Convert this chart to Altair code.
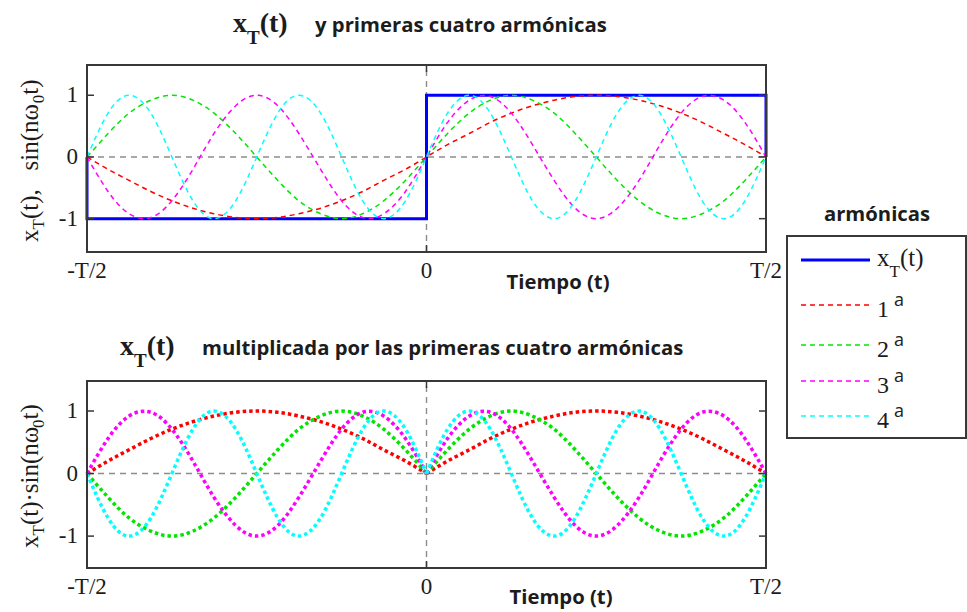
import altair as alt
import pandas as pd

# ---------------------------------------------------------------------------
# Data: one period of the square wave and its first four sine harmonics,
# sampled every T/32 from -T/2 to T/2 (time axis in units of T).
# ---------------------------------------------------------------------------
t_vals = [-0.5, -0.469, -0.438, -0.406, -0.375, -0.344, -0.313, -0.281, -0.25,
          -0.219, -0.188, -0.156, -0.125, -0.094, -0.063, -0.031, 0.0,
          0.031, 0.063, 0.094, 0.125, 0.156, 0.188, 0.219, 0.25,
          0.281, 0.313, 0.344, 0.375, 0.406, 0.438, 0.469, 0.5]

harm_1 = [0, -0.2, -0.38, -0.56, -0.71, -0.83, -0.92, -0.98, -1,
          -0.98, -0.92, -0.83, -0.71, -0.56, -0.38, -0.2, 0,
          0.2, 0.38, 0.56, 0.71, 0.83, 0.92, 0.98, 1,
          0.98, 0.92, 0.83, 0.71, 0.56, 0.38, 0.2, 0]
harm_2 = [0, 0.38, 0.71, 0.92, 1, 0.92, 0.71, 0.38, 0,
          -0.38, -0.71, -0.92, -1, -0.92, -0.71, -0.38, 0,
          0.38, 0.71, 0.92, 1, 0.92, 0.71, 0.38, 0,
          -0.38, -0.71, -0.92, -1, -0.92, -0.71, -0.38, 0]
harm_3 = [0, -0.56, -0.92, -0.98, -0.71, -0.2, 0.38, 0.83, 1,
          0.83, 0.38, -0.2, -0.71, -0.98, -0.92, -0.56, 0,
          0.56, 0.92, 0.98, 0.71, 0.2, -0.38, -0.83, -1,
          -0.83, -0.38, 0.2, 0.71, 0.98, 0.92, 0.56, 0]
harm_4 = [0, 0.71, 1, 0.71, 0, -0.71, -1, -0.71, 0,
          0.71, 1, 0.71, 0, -0.71, -1, -0.71, 0,
          0.71, 1, 0.71, 0, -0.71, -1, -0.71, 0,
          0.71, 1, 0.71, 0, -0.71, -1, -0.71, 0]
harmonics = [harm_1, harm_2, harm_3, harm_4]
harm_keys = ["1", "2", "3", "4"]
harm_colors = ["#ff0000", "#00e600", "#ff00ff", "#00ffff"]

# outline of x_T(t) over one period
square_t = [-0.5, -0.5, 0.0, 0.0, 0.5, 0.5]
square_v = [0, -1, -1, 1, 1, 0]
square_color = "#0000ff"

x_tick_values = [-0.5, 0.0, 0.5]
x_tick_labels = ["-T/2", "0", "T/2"]
y_tick_values = [-1, 0, 1]
y_tick_labels = ["-1", "0", "1"]

# ---------------------------------------------------------------------------
# Layout (pixels on a 967 x 612 canvas)
# ---------------------------------------------------------------------------
W, H = 967, 612
X_DOMAIN = [-0.5, 0.5]
X_RANGE = [87, 766]
TOP_DOMAIN = [-1.54, 1.49]
TOP_RANGE = [252, 65]
BOT_DOMAIN = [-1.51, 1.48]
BOT_RANGE = [568, 381]

INK = "#1c1c1c"
FRAME = "#383838"
ZERO = "#8c8c8c"
SERIF = "Liberation Serif"
SANS = "Open Sans"
SANS_SIZE = 20.3

# Times-compatible advance widths (em) used to chain sub/superscript pieces
SERIF_W = {"x": 0.5, "T": 0.611, "(": 0.333, ")": 0.333, "t": 0.278,
           ",": 0.25, " ": 0.25, "s": 0.389, "i": 0.278, "n": 0.5,
           "\u03c9": 0.69, "0": 0.5, "\u00b7": 0.25}
SERIF_BOLD_W = {"x": 0.5, "T": 0.667, "(": 0.333, ")": 0.333, "t": 0.333}

one = pd.DataFrame({"k": [0]})


def label(text, x, y, size, font, weight="normal", angle=0, align="left", color=INK):
    return alt.Chart(one).mark_text(
        text=text, font=font, fontSize=size, fontWeight=weight, angle=angle,
        align=align, baseline="alphabetic", color=color,
    ).encode(x=alt.value(x), y=alt.value(y))


def serif_run(parts, x0, y0, bold=False, angle=0):
    """Chain (text, size, baseline_shift) pieces along the reading direction.
    Pieces made only of spaces just advance the pen."""
    widths = SERIF_BOLD_W if bold else SERIF_W
    ux, uy = (1, 0) if angle == 0 else (0, -1)
    nx, ny = (0, 1) if angle == 0 else (1, 0)
    adv = 0.0
    out = []
    for text, size, shift in parts:
        if text.strip():
            out.append(label(text, x0 + ux * adv + nx * shift, y0 + uy * adv + ny * shift,
                             size, SERIF, "bold" if bold else "normal", angle))
        adv += sum(widths[c] for c in text) * size
    return out


x_scale = alt.Scale(domain=X_DOMAIN, range=X_RANGE, nice=False, zero=False)
color = alt.Color("n:N", scale=alt.Scale(domain=harm_keys, range=harm_colors), legend=None)


def panel_decor(ys, dom):
    """Zero lines, box, inward MATLAB-style ticks and tick labels of one panel."""
    xs = x_scale
    zero_h = alt.Chart(one).mark_rule(color=ZERO, strokeWidth=1.4, strokeDash=[6, 5]).encode(
        x=alt.X(datum=X_DOMAIN[0], scale=xs, axis=None), x2=alt.X2(datum=X_DOMAIN[1]),
        y=alt.Y(datum=0, scale=ys, axis=None))
    zero_v = alt.Chart(one).mark_rule(color=ZERO, strokeWidth=1.4, strokeDash=[6, 5]).encode(
        x=alt.X(datum=0, scale=xs, axis=None),
        y=alt.Y(datum=dom[0], scale=ys, axis=None), y2=alt.Y2(datum=dom[1]))
    box = alt.Chart(one).mark_rect(fillOpacity=0, stroke=FRAME, strokeWidth=2).encode(
        x=alt.X(datum=X_DOMAIN[0], scale=xs, axis=None), x2=alt.X2(datum=X_DOMAIN[1]),
        y=alt.Y(datum=dom[0], scale=ys, axis=None), y2=alt.Y2(datum=dom[1]))
    yt = pd.DataFrame({"v": y_tick_values, "lab": y_tick_labels})
    xt = pd.DataFrame({"t": x_tick_values, "lab": x_tick_labels})
    ticks = []
    for xe, off in ((X_DOMAIN[0], 7), (X_DOMAIN[1], -7)):
        ticks.append(alt.Chart(yt).mark_rule(color=FRAME, strokeWidth=1.5, x2Offset=off).encode(
            x=alt.X(datum=xe, scale=xs, axis=None), x2=alt.X2(datum=xe),
            y=alt.Y("v:Q", scale=ys, axis=None)))
    for ye, off in ((dom[0], -7), (dom[1], 7)):
        ticks.append(alt.Chart(xt).mark_rule(color=FRAME, strokeWidth=1.5, y2Offset=off).encode(
            x=alt.X("t:Q", scale=xs, axis=None),
            y=alt.Y(datum=ye, scale=ys, axis=None), y2=alt.Y2(datum=ye)))
    # tick labels
    ticks.append(alt.Chart(yt).mark_text(font=SERIF, fontSize=23, color=INK, align="right",
                                         baseline="middle", dx=-9).encode(
        x=alt.X(datum=X_DOMAIN[0], scale=xs, axis=None),
        y=alt.Y("v:Q", scale=ys, axis=None), text="lab:N"))
    ticks.append(alt.Chart(xt).mark_text(font=SERIF, fontSize=23, color=INK, align="center",
                                         baseline="alphabetic", dy=26).encode(
        x=alt.X("t:Q", scale=xs, axis=None),
        y=alt.Y(datum=dom[0], scale=ys, axis=None), text="lab:N"))
    return [zero_h, zero_v], [box] + ticks


# ---------------------------------------------------------------------------
# Top panel: x_T(t) and sin(n w0 t)
# ---------------------------------------------------------------------------
top_df = pd.DataFrame([{"t": t, "v": v, "n": k}
                       for k, h in zip(harm_keys, harmonics) for t, v in zip(t_vals, h)])
square_df = pd.DataFrame({"t": square_t, "v": square_v, "i": list(range(len(square_t)))})

ys_top = alt.Scale(domain=TOP_DOMAIN, range=TOP_RANGE, nice=False, zero=False)
under_top, over_top = panel_decor(ys_top, TOP_DOMAIN)

square_line = alt.Chart(square_df).mark_line(color=square_color, strokeWidth=3).encode(
    x=alt.X("t:Q", scale=x_scale, axis=None),
    y=alt.Y("v:Q", scale=ys_top, axis=None),
    order="i:Q")
top_harm = alt.Chart(top_df).mark_line(strokeWidth=1.5, strokeDash=[5, 4], interpolate="natural").encode(
    x=alt.X("t:Q", scale=x_scale, axis=None),
    y=alt.Y("v:Q", scale=ys_top, axis=None),
    color=color)
top_panel = alt.layer(*under_top, square_line, top_harm, *over_top)

# ---------------------------------------------------------------------------
# Bottom panel: x_T(t) * sin(n w0 t)  (x_T = -1 on the left half, +1 on the right)
# ---------------------------------------------------------------------------
rows = []
for k, h in zip(harm_keys, harmonics):
    for t, v in zip(t_vals, h):
        if t <= 0:
            rows.append({"t": t, "v": -1 * v, "n": k, "seg": "izq"})
        if t >= 0:
            rows.append({"t": t, "v": 1 * v, "n": k, "seg": "der"})
bot_df = pd.DataFrame(rows)

ys_bot = alt.Scale(domain=BOT_DOMAIN, range=BOT_RANGE, nice=False, zero=False)
under_bot, over_bot = panel_decor(ys_bot, BOT_DOMAIN)
bot_lines = alt.Chart(bot_df).mark_line(strokeWidth=3.5, strokeDash=[3.5, 3], interpolate="natural").encode(
    x=alt.X("t:Q", scale=x_scale, axis=None),
    y=alt.Y("v:Q", scale=ys_bot, axis=None),
    color=color, detail="seg:N")
bottom_panel = alt.layer(*under_bot, bot_lines, *over_bot)

# ---------------------------------------------------------------------------
# Titles and axis captions
# ---------------------------------------------------------------------------
texts = []
texts += serif_run([("x", 28, 0), ("T", 19, 12), ("(t)", 28, 0)], 233, 32, bold=True)
texts.append(label("y primeras cuatro armónicas", 315, 32, SANS_SIZE, SANS, "bold"))
texts += serif_run([("x", 28, 0), ("T", 19, 12), ("(t)", 28, 0)], 120, 355, bold=True)
texts.append(label("multiplicada por las primeras cuatro armónicas", 202, 355, SANS_SIZE, SANS, "bold"))

texts += serif_run([("x", 25, 0), ("T", 17, 6), ("(t),", 25, 0), ("   ", 25, 0),
                    ("sin(n\u03c9", 25, 0), ("0", 17, 6), ("t)", 25, 0)], 38, 242, angle=270)
texts += serif_run([("x", 25, 0), ("T", 17, 6), ("(t)\u00b7sin(n\u03c9", 25, 0),
                    ("0", 17, 6), ("t)", 25, 0)], 38, 548, angle=270)

texts.append(label("Tiempo (t)", 558, 289, SANS_SIZE, SANS, "bold", align="center"))
texts.append(label("Tiempo (t)", 561, 604, SANS_SIZE, SANS, "bold", align="center"))

# ---------------------------------------------------------------------------
# Legend
# ---------------------------------------------------------------------------
legend_rows_y = [260, 305, 345, 381, 416]
legend = [label("armónicas", 877, 221, SANS_SIZE, SANS, "bold", align="center"),
          alt.Chart(one).mark_rect(fillOpacity=0, stroke=FRAME, strokeWidth=2).encode(
              x=alt.value(787), x2=alt.value(966), y=alt.value(236), y2=alt.value(438))]
legend.append(alt.Chart(one).mark_rule(color=square_color, strokeWidth=3).encode(
    x=alt.value(801), x2=alt.value(870), y=alt.value(legend_rows_y[0])))
legend += serif_run([("x", 25, 0), ("T", 17, 11), ("(t)", 25, 0)], 877, legend_rows_y[0] + 6)
for k, col, ry in zip(harm_keys, harm_colors, legend_rows_y[1:]):
    legend.append(alt.Chart(one).mark_rule(color=col, strokeWidth=1.5, strokeDash=[5, 4]).encode(
        x=alt.value(801), x2=alt.value(870), y=alt.value(ry)))
    legend.append(label(k, 877, ry + 12, 24, SERIF))
    legend.append(label("a", 894, ry + 1, 18, SANS))

chart = alt.layer(top_panel, bottom_panel, *texts, *legend).resolve_scale(
    x="independent", y="independent"
).properties(
    width=W, height=H, padding=0, background="white",
    autosize=alt.AutoSizeParams(type="none"),
).configure_view(strokeWidth=0)

chart.save("out.html", embed_options={"renderer": "svg", "actions": False})
